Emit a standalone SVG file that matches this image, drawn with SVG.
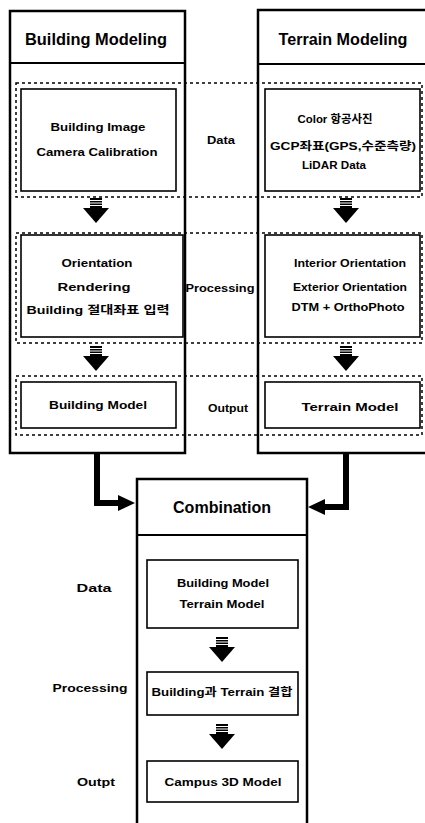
<svg xmlns="http://www.w3.org/2000/svg" width="425" height="823" viewBox="0 0 425 823">
<style>
.outer{fill:none;stroke:#000;stroke-width:2.5}
.sep{fill:none;stroke:#000;stroke-width:2}
.inner{fill:#fff;stroke:#000;stroke-width:1.6}
.dash{fill:none;stroke:#000;stroke-width:1.5;stroke-dasharray:3 3}
.hd{font-family:"Liberation Sans","Noto Sans CJK KR",sans-serif;font-weight:bold;font-size:17px;text-anchor:middle}
.t{font-family:"Liberation Sans","Noto Sans CJK KR",sans-serif;font-weight:bold;font-size:11px;text-anchor:middle}
.lb{font-family:"Liberation Sans","Noto Sans CJK KR",sans-serif;font-weight:bold;font-size:11.5px;text-anchor:middle}
.conn{fill:none;stroke:#000;stroke-width:6}
</style>
<defs>
<g id="darrow">
<rect x="-6" y="0" width="12" height="10" fill="#000"/>
<line x1="-6" y1="2.5" x2="6" y2="2.5" stroke="#fff" stroke-width="1"/>
<line x1="-6" y1="5" x2="6" y2="5" stroke="#fff" stroke-width="1"/>
<line x1="-6" y1="7.5" x2="6" y2="7.5" stroke="#fff" stroke-width="1"/>
<polygon points="-13,10 13,10 0,25" fill="#000"/>
</g>
</defs>
<rect width="425" height="823" fill="#fff"/>

<g id="bands">
<rect class="dash" x="16" y="83" width="406" height="114"/>
<rect class="dash" x="16" y="233" width="406" height="110"/>
<rect class="dash" x="16" y="376" width="406" height="59"/>
<text class="lb" x="221" y="144" textLength="28" lengthAdjust="spacingAndGlyphs">Data</text>
<text class="lb" x="220" y="292" textLength="69" lengthAdjust="spacingAndGlyphs">Processing</text>
<text class="lb" x="228" y="412" textLength="40" lengthAdjust="spacingAndGlyphs">Output</text>
</g>

<g id="building-modeling">
<rect class="outer" x="10" y="11" width="175" height="442"/>
<line class="sep" x1="10" y1="63" x2="185" y2="63"/>
<text class="hd" x="96" y="45" textLength="142" lengthAdjust="spacingAndGlyphs">Building Modeling</text>
</g>
<g id="building-data">
<rect class="inner" x="21" y="89" width="155" height="102"/>
<text class="t" x="98" y="131" textLength="95" lengthAdjust="spacingAndGlyphs">Building Image</text>
<text class="t" x="97" y="156" textLength="121" lengthAdjust="spacingAndGlyphs">Camera Calibration</text>
</g>
<g id="building-processing">
<rect class="inner" x="21" y="235" width="162" height="102"/>
<text class="t" x="97" y="267" textLength="71" lengthAdjust="spacingAndGlyphs">Orientation</text>
<text class="t" x="94" y="291" textLength="73" lengthAdjust="spacingAndGlyphs">Rendering</text>
<text class="t" x="98" y="314" textLength="143" lengthAdjust="spacingAndGlyphs">Building 절대좌표 입력</text>
</g>
<g id="building-output">
<rect class="inner" x="21" y="382" width="155" height="46"/>
<text class="t" x="98" y="409" textLength="98" lengthAdjust="spacingAndGlyphs">Building Model</text>
</g>

<g id="terrain-modeling">
<rect class="outer" x="258" y="10" width="175" height="443"/>
<line class="sep" x1="258" y1="64" x2="430" y2="64"/>
<text class="hd" x="343" y="45" textLength="129" lengthAdjust="spacingAndGlyphs">Terrain Modeling</text>
</g>
<g id="terrain-data">
<rect class="inner" x="265" y="89" width="155" height="102"/>
<text class="t" x="335" y="123" textLength="75" lengthAdjust="spacingAndGlyphs">Color 항공사진</text>
<text class="t" x="343" y="150" textLength="146" lengthAdjust="spacingAndGlyphs">GCP좌표(GPS,수준측량)</text>
<text class="t" x="334" y="169" textLength="64" lengthAdjust="spacingAndGlyphs">LiDAR Data</text>
</g>
<g id="terrain-processing">
<rect class="inner" x="265" y="235" width="155" height="102"/>
<text class="t" x="350" y="267" textLength="112" lengthAdjust="spacingAndGlyphs">Interior Orientation</text>
<text class="t" x="350" y="291" textLength="114" lengthAdjust="spacingAndGlyphs">Exterior Orientation</text>
<text class="t" x="348" y="311" textLength="113" lengthAdjust="spacingAndGlyphs">DTM + OrthoPhoto</text>
</g>
<g id="terrain-output">
<rect class="inner" x="265" y="382" width="155" height="46"/>
<text class="t" x="350" y="411" textLength="97" lengthAdjust="spacingAndGlyphs">Terrain Model</text>
</g>

<g id="combination">
<rect class="outer" x="137" y="479" width="170" height="360"/>
<line class="sep" x1="137" y1="535" x2="307" y2="535"/>
<text class="hd" x="222" y="513" textLength="98" lengthAdjust="spacingAndGlyphs">Combination</text>
<text class="lb" x="94" y="592" textLength="35" lengthAdjust="spacingAndGlyphs">Data</text>
<text class="lb" x="90" y="692" textLength="75" lengthAdjust="spacingAndGlyphs">Processing</text>
<text class="lb" x="96" y="786" textLength="38" lengthAdjust="spacingAndGlyphs">Outpt</text>
</g>
<g id="combination-data">
<rect class="inner" x="147" y="560" width="151" height="68"/>
<text class="t" x="223" y="587" textLength="92" lengthAdjust="spacingAndGlyphs">Building Model</text>
<text class="t" x="222" y="608" textLength="85" lengthAdjust="spacingAndGlyphs">Terrain Model</text>
</g>
<g id="combination-processing">
<rect class="inner" x="147" y="672" width="151" height="43"/>
<text class="t" x="222" y="696" textLength="141" lengthAdjust="spacingAndGlyphs">Building과 Terrain 결합</text>
</g>
<g id="combination-output">
<rect class="inner" x="147" y="761" width="151" height="41"/>
<text class="t" x="223" y="786" textLength="117" lengthAdjust="spacingAndGlyphs">Campus 3D Model</text>
</g>

<g id="connectors">
<use href="#darrow" transform="translate(96,198)"/>
<use href="#darrow" transform="translate(96,346)"/>
<use href="#darrow" transform="translate(346,198)"/>
<use href="#darrow" transform="translate(346,346)"/>
<use href="#darrow" transform="translate(222,637)"/>
<use href="#darrow" transform="translate(222,724)"/>
<path class="conn" d="M97,454 V503 H120"/>
<polygon points="118,495 135,503 118,511" fill="#000"/>
<path class="conn" d="M346,454 V507 H323"/>
<polygon points="325,499 308,507 325,515" fill="#000"/>
</g>
</svg>
